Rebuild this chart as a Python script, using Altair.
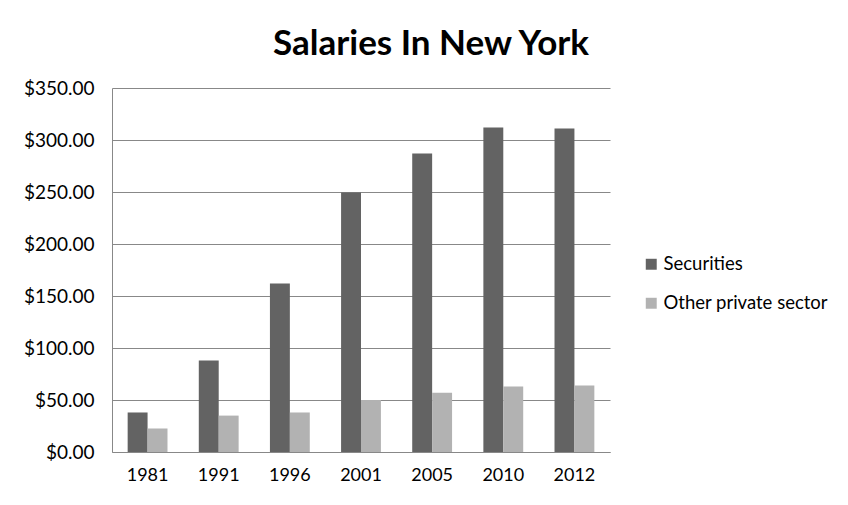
import altair as alt
import pandas as pd

years = ["1981", "1991", "1996", "2001", "2005", "2010", "2012"]
securities = [38, 88, 162, 249.5, 287, 312, 311]
other_private = [22.5, 35, 38, 50, 57, 63, 64]
series_names = ["Securities", "Other private sector"]
series_colors = ["#636363", "#b2b2b2"]

rows = []
for y, s, o in zip(years, securities, other_private):
    rows.append({"Year": y, "Series": series_names[0], "Value": s})
    rows.append({"Year": y, "Series": series_names[1], "Value": o})
df = pd.DataFrame(rows)

FONT = "Lato"

chart = alt.Chart(df).mark_bar().encode(
    x=alt.X("Year:N", sort=years, title=None,
            scale=alt.Scale(paddingInner=0.44, paddingOuter=0.22),
            axis=alt.Axis(labelAngle=0, ticks=False, domainColor="#888888",
                          labelFontSize=18, labelPadding=14, labelColor="#000000",
                          labelFont=FONT, grid=False)),
    xOffset=alt.XOffset("Series:N", sort=series_names),
    y=alt.Y("Value:Q", title=None,
            scale=alt.Scale(domain=[0, 350]),
            axis=alt.Axis(values=[0, 50, 100, 150, 200, 250, 300, 350], format="$,.2f",
                          ticks=False, domainColor="#888888", gridColor="#888888",
                          gridWidth=1.2, labelFontSize=19, labelPadding=18,
                          labelColor="#000000", labelFont=FONT)),
    color=alt.Color("Series:N", sort=series_names,
                    scale=alt.Scale(domain=series_names, range=series_colors),
                    legend=alt.Legend(title=None, orient="none", legendX=530, legendY=167,
                                      symbolType="square", symbolSize=120,
                                      labelFontSize=18.5, labelFont=FONT, labelColor="#000000",
                                      rowPadding=20, symbolStrokeWidth=0, labelOffset=3,
                                      labelLimit=400)),
).properties(
    width=498,
    height=364,
    title=alt.TitleParams("Salaries In New York", fontSize=35, font=FONT, fontWeight="bold",
                          color="#000000", anchor="middle", dx=70, offset=17),
    autosize=alt.AutoSizeParams(type="none"),
    padding={"left": 104, "top": 80, "right": 226, "bottom": 36},
    background="#ffffff",
).configure_view(stroke="#ffffff", strokeWidth=2)

chart.save("out.html", embed_options={"renderer": "svg", "actions": False})
